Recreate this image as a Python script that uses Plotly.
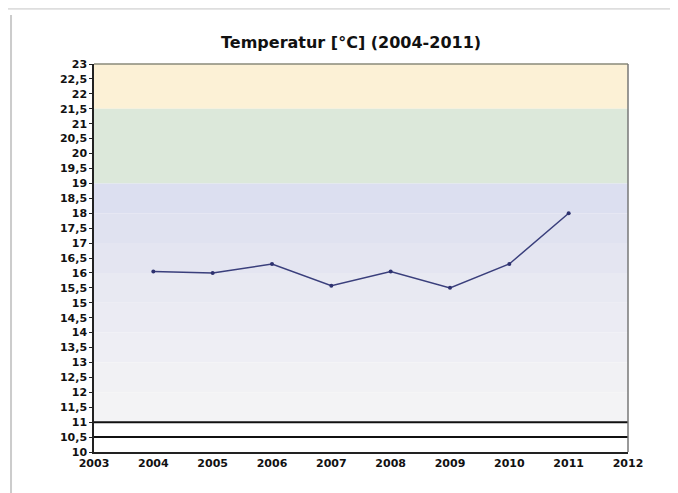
import plotly.graph_objects as go

years = [2004, 2005, 2006, 2007, 2008, 2009, 2010, 2011]
temps = [16.05, 16.0, 16.3, 15.57, 16.05, 15.5, 16.3, 18.0]

y_ticks = [10 + 0.5 * i for i in range(27)]
y_tick_labels = [("%g" % v).replace(".", ",") for v in y_ticks]
x_ticks = list(range(2003, 2013))

# background zones (value ranges) and colours
zone_low = [21.5, 19.0]
zone_high = [23.0, 21.5]
zone_colors = ["#fcf1d6", "#dce8da"]
blue_edges = [19, 18, 17, 16, 15, 14, 13, 12, 11]
blue_colors = ["#dcdff0", "#e0e2f0", "#e4e5f1", "#e8e9f2", "#ebebf3", "#eeeef4", "#f1f1f4", "#f3f3f5"]
hlines = [10.5, 11.0]

fig = go.Figure()
fig.add_trace(go.Scatter(
    x=years, y=temps, mode="lines+markers",
    line=dict(color="#3a3f7c", width=1.5),
    marker=dict(color="#2e3270", size=4),
    showlegend=False, hoverinfo="x+y",
))

shapes = []
for lo, hi, c in zip(zone_low, zone_high, zone_colors):
    shapes.append(dict(type="rect", xref="paper", yref="y", x0=0, x1=1, y0=lo, y1=hi,
                       fillcolor=c, line=dict(width=0), layer="below"))
for i, c in enumerate(blue_colors):
    shapes.append(dict(type="rect", xref="paper", yref="y", x0=0, x1=1,
                       y0=blue_edges[i + 1], y1=blue_edges[i],
                       fillcolor=c, line=dict(width=0), layer="below"))
for h in hlines:
    shapes.append(dict(type="line", xref="paper", yref="y", x0=0, x1=1, y0=h, y1=h,
                       line=dict(color="#111111", width=2), layer="above"))
# gray top / right frame of the plot area
shapes.append(dict(type="line", xref="paper", yref="paper", x0=0, x1=1, y0=1, y1=1,
                   line=dict(color="#8a8a7a", width=1.5)))
shapes.append(dict(type="line", xref="paper", yref="paper", x0=1, x1=1, y0=0, y1=1,
                   line=dict(color="#777777", width=1.5)))
# page border of the scanned document
shapes.append(dict(type="line", xref="paper", yref="paper", x0=-0.1554, x1=-0.1554, y0=-0.15, y1=1.126,
                   line=dict(color="#cccccc", width=2)))
shapes.append(dict(type="rect", xref="paper", yref="paper", x0=-0.2, x1=1.2, y0=1.14, y1=1.2,
                   fillcolor="#dedede", line=dict(width=0)))

tick_font = dict(family="DejaVu Sans, sans-serif", size=11, color="#111111")

fig.update_layout(
    width=678, height=493,
    margin=dict(l=86, r=58, t=56, b=49),
    paper_bgcolor="white", plot_bgcolor="white",
    shapes=shapes,
    title=dict(text="<b>Temperatur [°C] (2004-2011)</b>", x=0.506, xanchor="center",
               y=0.93, yanchor="middle",
               font=dict(family="DejaVu Sans, sans-serif", size=16, color="#111111")),
    xaxis=dict(range=[2003, 2012], tickvals=x_ticks, ticktext=["<b>%d</b>" % v for v in x_ticks],
               showgrid=False, zeroline=False, showline=True, linecolor="#222222", linewidth=1.5,
               mirror=False, ticks="", tickfont=tick_font),
    yaxis=dict(range=[10, 23], tickvals=y_ticks, ticktext=["<b>%s</b>" % t for t in y_tick_labels],
               showgrid=False, zeroline=False, showline=True, linecolor="#222222", linewidth=1.5,
               mirror=False, ticks="outside", ticklen=3, tickcolor="#222222", tickfont=tick_font),
)

fig.write_html("out.html")
